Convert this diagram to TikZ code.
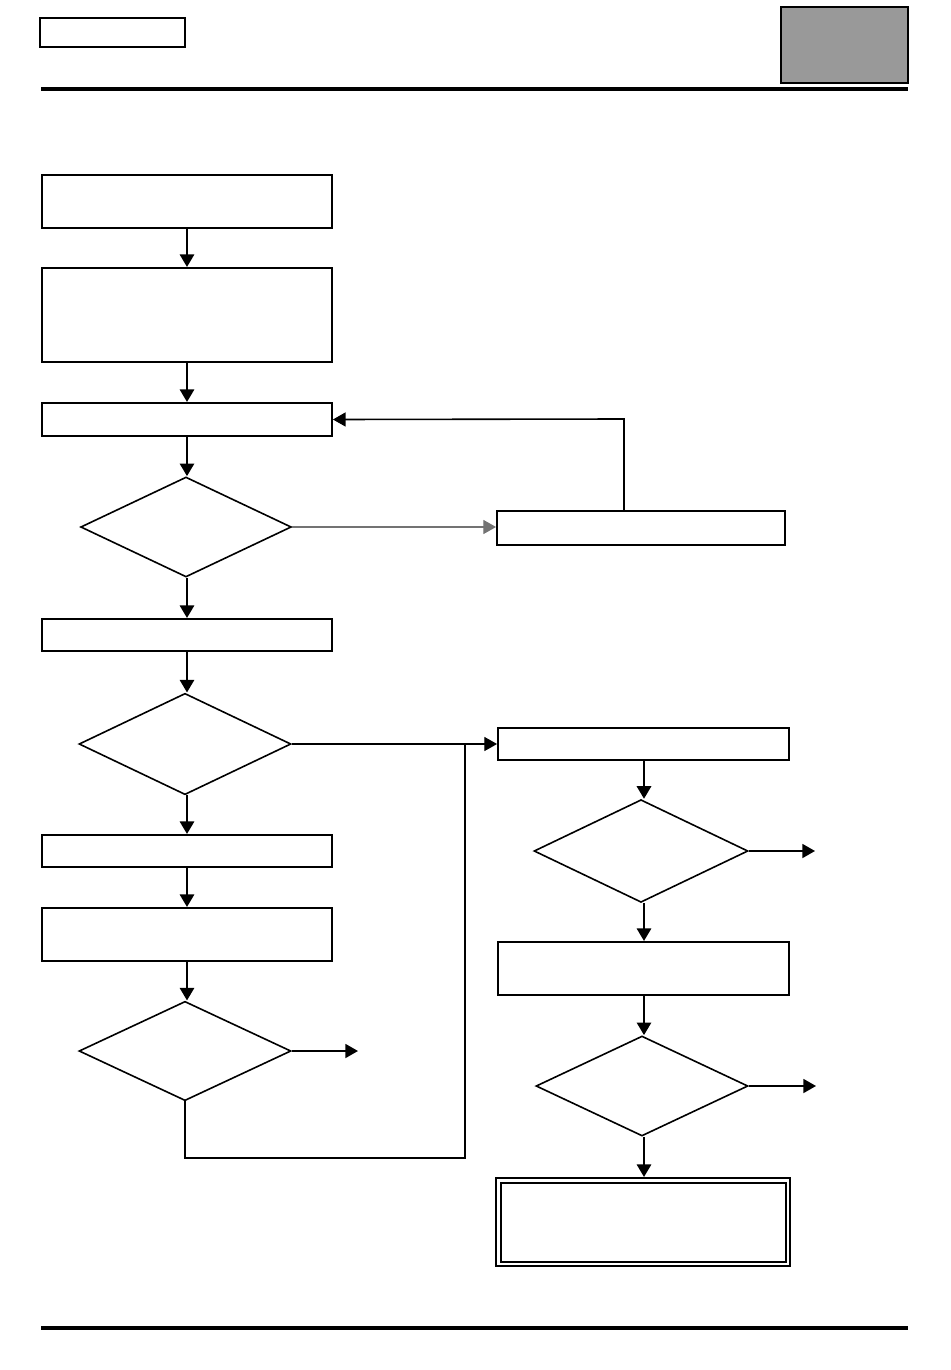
\documentclass[tikz,border=0pt]{standalone}
\usetikzlibrary{shapes.geometric,arrows.meta,fit}
\begin{document}
\begin{tikzpicture}[x=0.75pt,y=-0.75pt,
  box/.style={draw,line width=1.4pt,inner sep=0pt,rectangle},
  dec/.style={draw,line width=1.2pt,diamond,inner sep=0pt},
  tip/.style={-{Triangle[width=10.5pt,length=9.5pt]}},
  arr/.style={line width=2.2pt,tip},
  thinarr/.style={line width=0.8pt,tip},
  plain/.style={line width=1.2pt}]
\useasboundingbox (0,0) rectangle (950,1370);
% header / footer
\node[box,line width=1.2pt,fit={(40,18) (185,47)}] (hdr) {};
\node[box,line width=1.8pt,fill=black!40,fit={(781,7) (908,83)}] (tab) {};
\coordinate (hl1) at (41,89); \coordinate (hl2) at (908,89);
\draw[line width=2.6pt] (hl1) -- (hl2);
\coordinate (fl1) at (41,1328); \coordinate (fl2) at (908,1328);
\draw[line width=2.6pt] (fl1) -- (fl2);
% left column
\node[box,fit={(42,175) (332,228)}] (b1) {};
\node[box,fit={(42,268) (332,362)}] (b2) {};
\node[box,fit={(42,403) (332,436)}] (b3) {};
\node[dec,minimum width=158pt,minimum height=75pt] (d1) at (186,527) {};
\node[box,fit={(497,511) (785,545)}] (r1) {};
\node[box,fit={(42,619) (332,651)}] (b4) {};
\node[dec,minimum width=159pt,minimum height=76pt] (d2) at (185,744) {};
\node[box,fit={(498,728) (789,760)}] (r2) {};
\node[box,fit={(42,835) (332,867)}] (b5) {};
\node[box,fit={(42,908) (332,961)}] (b6) {};
\node[dec,minimum width=159pt,minimum height=74.5pt] (d3) at (185,1051) {};
% right column
\node[dec,minimum width=160.5pt,minimum height=77pt] (d4) at (641,851) {};
\node[box,fit={(498,942) (789,995)}] (r3) {};
\node[dec,minimum width=159pt,minimum height=75pt] (d5) at (642,1086) {};
\node[box,fit={(496,1178) (790,1266)}] (fo) {};
\node[box,fit={(501,1183) (786,1262)}] (fi) {};
% coordinates
\coordinate (fb) at (624,419);
\coordinate (j) at (465,744);
\coordinate (jb) at (465,1158);
\coordinate (x3) at (358,0);
\coordinate (x4) at (815,0);
\coordinate (x5) at (816,0);
\coordinate (lc) at (187,0);
\coordinate (rc) at (644,0);
% connectors left
\draw[arr] (b1.south -| lc) -- (b2.north -| lc);
\draw[arr] (b2.south -| lc) -- (b3.north -| lc);
\draw[arr] (b3.south -| lc) -- (d1.north -| lc);
\draw[arr] (d1.south -| lc) -- (b4.north -| lc);
\draw[arr] (b4.south -| lc) -- (d2.north -| lc);
\draw[arr] (d2.south -| lc) -- (b5.north -| lc);
\draw[arr] (b5.south -| lc) -- (b6.north -| lc);
\draw[arr] (b6.south -| lc) -- (d3.north -| lc);
\draw[thinarr,black!55] (d1.east) -- (d1.east -| r1.west);
\draw[plain,tip] (r1.north -| fb) -- (fb) -- (b3.east);
\draw[thinarr] (d2.east) -- (d2.east -| r2.west);
\draw[arr,line width=1.3pt] (d3.east) -- (d3.east -| x3);
\draw[plain] (d3.south) -- (jb -| d3.south) -- (jb) -- (j);
% connectors right
\draw[arr] (r2.south -| rc) -- (d4.north -| rc);
\draw[arr] (d4.south -| rc) -- (r3.north -| rc);
\draw[arr] (r3.south -| rc) -- (d5.north -| rc);
\draw[arr] (d5.south -| rc) -- (fo.north -| rc);
\draw[arr,line width=1.3pt] (d4.east) -- (d4.east -| x4);
\draw[arr,line width=1.3pt] (d5.east) -- (d5.east -| x5);
\end{tikzpicture}
\end{document}
